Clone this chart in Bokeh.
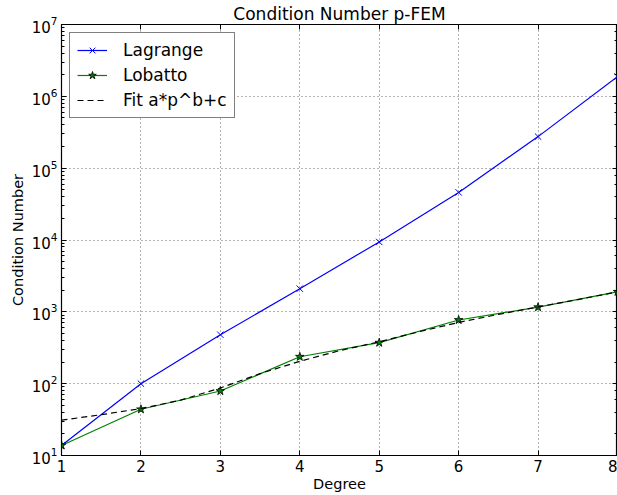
from bokeh.plotting import figure
from bokeh.models import Range1d, LogAxis, LinearAxis, Legend, LegendItem, FixedTicker, CustomJSTickFormatter
from bokeh.embed import file_html
from bokeh.resources import INLINE

degree = [1, 2, 3, 4, 5, 6, 7, 8]
lagrange = [13.8, 100, 480, 2100, 9400, 46000, 275000, 1.88e6]
lobatto = [13.8, 44, 79, 237, 372, 770, 1160, 1900]
fit_p = [1, 1.5, 2, 2.5, 3, 3.5, 4, 4.5, 5, 5.5, 6, 6.5, 7, 7.5, 8]
fit_v = [31, 37, 45, 59, 87, 138, 205, 288, 383, 528, 712, 920, 1170, 1480, 1900]

FONT = "DejaVu Sans"

p = figure(width=617, height=495, output_backend="svg", toolbar_location=None,
           y_axis_type="log", x_range=Range1d(1, 8), y_range=Range1d(10, 1e7),
           min_border_left=61, min_border_right=0, min_border_top=24, min_border_bottom=40)

p.title.text = "Condition Number p-FEM"
p.title.align = "center"
p.title.text_font = FONT
p.title.text_font_size = "17px"
p.title.text_font_style = "normal"
p.title.text_color = "black"
p.title.standoff = 2

p.outline_line_color = "black"
p.outline_line_width = 1.2
p.background_fill_color = "white"

for g in (p.xgrid[0], p.ygrid[0]):
    g.grid_line_color = "#666666"
    g.grid_line_dash = "1 3"
    g.grid_line_width = 1

p.xaxis.ticker = FixedTicker(ticks=degree)
for ax in (p.xaxis[0], p.yaxis[0]):
    ax.major_tick_in = 5
    ax.major_tick_out = 0
    ax.minor_tick_in = 3
    ax.minor_tick_out = 0
    ax.axis_line_color = "black"
    ax.major_tick_line_color = "black"
    ax.minor_tick_line_color = "black"
    ax.major_label_text_font = FONT
    ax.major_label_text_font_size = "15px"
    ax.major_label_text_color = "black"
    ax.axis_label_text_font = FONT
    ax.axis_label_text_font_size = "14.5px"
    ax.axis_label_text_font_style = "normal"
    ax.axis_label_text_color = "black"
p.xaxis.axis_label = "Degree"
p.yaxis.axis_label = "Condition Number"
p.xaxis.major_label_standoff = 4
p.xaxis.axis_label_standoff = 1
p.yaxis.axis_label_standoff = 3
p.yaxis.major_label_standoff = 4

blank = CustomJSTickFormatter(code="return '';")
rax = LogAxis(formatter=blank, major_tick_in=5, major_tick_out=0,
              minor_tick_in=3, minor_tick_out=0, major_label_standoff=0,
              axis_label_standoff=0, major_tick_line_color="black",
              minor_tick_line_color="black")
p.add_layout(rax, "right")
tax = LinearAxis(ticker=FixedTicker(ticks=degree), formatter=blank,
                 major_tick_in=5, major_tick_out=0, minor_tick_in=0, minor_tick_out=0,
                 major_label_standoff=0, axis_label_standoff=0,
                 major_tick_line_color="black")
p.add_layout(tax, "above")

l1 = p.line(degree, lagrange, line_color="#0000ff", line_width=1.2)
m1 = p.scatter(degree, lagrange, marker="x", size=9, line_color="#0000ff", line_width=1)
l2 = p.line(degree, lobatto, line_color="#008000", line_width=1.2)
m2 = p.scatter(degree, lobatto, marker="star", size=9, fill_color="#008000", line_color="black", line_width=0.8)
l3 = p.line(fit_p, fit_v, line_color="black", line_width=1.2, line_dash="6 4")

legend = Legend(items=[
    LegendItem(label="Lagrange", renderers=[l1, m1]),
    LegendItem(label="Lobatto", renderers=[l2, m2]),
    LegendItem(label="Fit a*p^b+c", renderers=[l3]),
], location="top_left")
legend.label_text_font = FONT
legend.label_text_font_size = "17px"
legend.label_text_color = "black"
legend.border_line_color = "black"
legend.border_line_width = 1.2
legend.background_fill_alpha = 1
legend.glyph_width = 30
legend.label_height = 20
legend.spacing = 5
legend.padding = 7
legend.margin = 8
legend.label_standoff = 16
p.add_layout(legend)

open("out.html", "w").write(file_html(p, INLINE))
